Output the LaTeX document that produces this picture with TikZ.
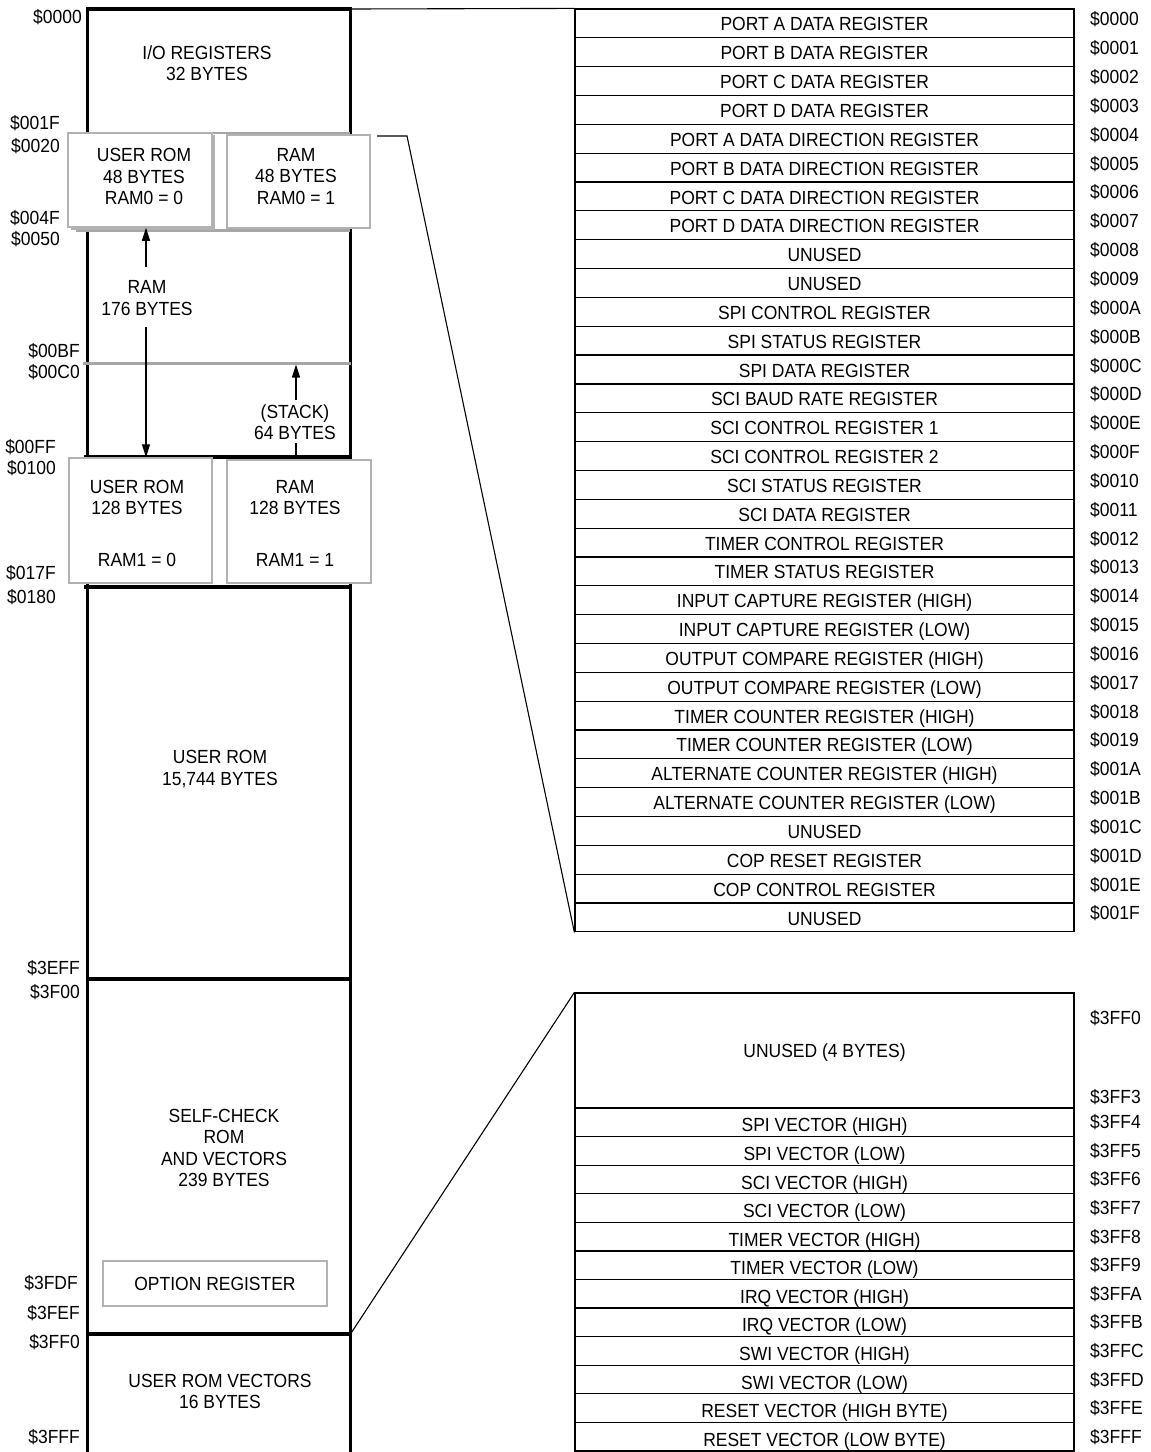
\documentclass[tikz,border=0pt]{standalone}
\usepackage{fontspec}
\setmainfont{Liberation Sans}[FakeStretch=0.92]
\usetikzlibrary{arrows.meta}
\definecolor{boxgray}{gray}{0.70}
\definecolor{divgray}{gray}{0.65}
\tikzset{
  txt/.style={font=\fontsize{19pt}{21.3pt}\selectfont, inner sep=0pt},
  blk/.style={txt, align=center},
  addr/.style={txt, anchor=base east},
  raddr/.style={txt, anchor=base west},
  colline/.style={line width=3.8pt, black},
  graydiv/.style={line width=3pt, divgray},
  ovbox/.style={draw=boxgray, line width=1.5pt, fill=white, inner sep=0pt},
  arr/.style={line width=1.2pt, -{Triangle[width=8pt,length=13pt]}},
  rowbox/.style={txt, draw, line width=1.2pt, minimum width=499pt, minimum height=28.84pt, text height=15.1pt, text depth=0pt},
  vrowbox/.style={rowbox, minimum height=28.58pt, text height=19.1pt},
  conn/.style={line width=1.1pt},
}
\begin{document}
\begin{tikzpicture}[x=1pt,y=-1pt]
\useasboundingbox (0,0) rectangle (1151,1452);

% ---------- memory column ----------
\draw[colline, line join=miter] (87.5,1452) -- (87.5,9) -- (350.5,9) -- (350.5,1452);
\coordinate (coltr) at (350.5,9);
\draw[divgray, line width=2pt] (88,133) -- (350,133);
\draw[graydiv] (76,230) -- (350,230);
\draw[graydiv] (83,363) -- (351,363);
\coordinate (stacktop) at (296,364.5);
\draw[colline] (84,457) -- (352,457);
\draw[colline] (84,587) -- (352,587);
\draw[colline] (87.5,979) -- (350.5,979);
\draw[colline] (87.5,1334) -- (350.5,1334);
\coordinate (c3ff0) at (350.5,1334);

% ---------- overlay boxes ----------
\draw[boxgray, line width=1.5pt] (72,136) rectangle (214,229);
\node[ovbox, minimum width=144pt, minimum height=94pt] (urom48box) at (140,180) {};
\node[ovbox, minimum width=143pt, minimum height=93pt] (ram48box) at (298.5,181.5) {};
\node[ovbox, minimum width=143pt, minimum height=125pt] (urom128box) at (140.5,520.5) {};
\node[ovbox, minimum width=144pt, minimum height=123pt] (ram128box) at (299,521.5) {};
\node[ovbox, txt, draw=boxgray, minimum width=224pt, minimum height=45pt] (optbox) at (215,1283.5) {OPTION REGISTER};

% ---------- texts in column ----------
\node[blk] (io) at (207,63.5) {I/O REGISTERS\\32 BYTES};
\node[blk] (urom48) at (144,176.5) {USER ROM\\48 BYTES\\RAM0 = 0};
\node[blk] (ram48) at (296,176.5) {RAM\\48 BYTES\\RAM0 = 1};
\node[blk] (ram176) at (147,298) {RAM\\176 BYTES};
\node[blk] (stack) at (295,422.5) {(STACK)\\64 BYTES};
\node[blk] (urom128) at (137,523.5) {USER ROM\\128 BYTES\\[30.5pt]RAM1 = 0};
\node[blk] (ram128) at (295,523.5) {RAM\\128 BYTES\\[30.5pt]RAM1 = 1};
\node[blk] (urom15744) at (220,769) {USER ROM\\15,744 BYTES};
\node[blk] (selfcheck) at (224,1148) {SELF-CHECK\\ROM\\AND VECTORS\\239 BYTES};
\node[blk] (urv) at (220,1391.5) {USER ROM VECTORS\\16 BYTES};

% ---------- arrows ----------
\coordinate (a1s) at (146,267);
\draw[arr] (a1s) -- (a1s |- urom48box.south);
\coordinate (a2s) at (146,327);
\draw[arr] (a2s) -- (a2s |- urom128box.north);
\coordinate (s1) at (296,400);
\draw[arr] (s1) -- (stacktop);
\coordinate (s2) at (296,443);
\draw[line width=1.2pt] (s2) -- (296,457);

% ---------- left addresses ----------
\node[addr] (l0000) at (82,23.5) {\$0000};
\node[addr] (l001F) at (60,129.5) {\$001F};
\node[addr] (l0020) at (60,152.5) {\$0020};
\node[addr] (l004F) at (60,224.5) {\$004F};
\node[addr] (l0050) at (60,245.5) {\$0050};
\node[addr] (l00BF) at (80,357.5) {\$00BF};
\node[addr] (l00C0) at (80,378.5) {\$00C0};
\node[addr] (l00FF) at (56,453.5) {\$00FF};
\node[addr] (l0100) at (56,474.5) {\$0100};
\node[addr] (l017F) at (56,579.5) {\$017F};
\node[addr] (l0180) at (56,603.5) {\$0180};
\node[addr] (l3EFF) at (80,974.5) {\$3EFF};
\node[addr] (l3F00) at (80,998.5) {\$3F00};
\node[addr] (l3FDF) at (78,1289.5) {\$3FDF};
\node[addr] (l3FEF) at (80,1319.5) {\$3FEF};
\node[addr] (l3FF0) at (80,1348.5) {\$3FF0};
\node[addr] (l3FFF) at (80,1443.5) {\$3FFF};

% ---------- I/O register table ----------
\foreach \t [count=\i from 0] in {
  {PORT A DATA REGISTER},{PORT B DATA REGISTER},{PORT C DATA REGISTER},{PORT D DATA REGISTER},
  {PORT A DATA DIRECTION REGISTER},{PORT B DATA DIRECTION REGISTER},{PORT C DATA DIRECTION REGISTER},{PORT D DATA DIRECTION REGISTER},
  {UNUSED},{UNUSED},{SPI CONTROL REGISTER},{SPI STATUS REGISTER},{SPI DATA REGISTER},{SCI BAUD RATE REGISTER},
  {SCI CONTROL REGISTER 1},{SCI CONTROL REGISTER 2},{SCI STATUS REGISTER},{SCI DATA REGISTER},
  {TIMER CONTROL REGISTER},{TIMER STATUS REGISTER},{INPUT CAPTURE REGISTER (HIGH)},{INPUT CAPTURE REGISTER (LOW)},
  {OUTPUT COMPARE REGISTER (HIGH)},{OUTPUT COMPARE REGISTER (LOW)},{TIMER COUNTER REGISTER (HIGH)},{TIMER COUNTER REGISTER (LOW)},
  {ALTERNATE COUNTER REGISTER (HIGH)},{ALTERNATE COUNTER REGISTER (LOW)},{UNUSED},{COP RESET REGISTER},{COP CONTROL REGISTER},{UNUSED}}
{
  \node[rowbox] (t\i) at (824.5,{9+28.84*(\i+0.5)}) {\t};
}
\foreach \a [count=\i from 0] in {0000,0001,0002,0003,0004,0005,0006,0007,0008,0009,000A,000B,000C,000D,000E,000F,
  0010,0011,0012,0013,0014,0015,0016,0017,0018,0019,001A,001B,001C,001D,001E,001F}
{
  \node[raddr] (ta\i) at (1090,{9+28.84*(\i+0.5)+2.5}) {\$\a};
}

% ---------- vector table ----------
\node[rowbox, minimum height=115pt, text height=13.1pt] (v0) at (824.5,1050.5) {UNUSED (4 BYTES)};
\foreach \t [count=\i from 1] in {
  {SPI VECTOR (HIGH)},{SPI VECTOR (LOW)},{SCI VECTOR (HIGH)},{SCI VECTOR (LOW)},
  {TIMER VECTOR (HIGH)},{TIMER VECTOR (LOW)},{IRQ VECTOR (HIGH)},{IRQ VECTOR (LOW)},
  {SWI VECTOR (HIGH)},{SWI VECTOR (LOW)},{RESET VECTOR (HIGH BYTE)},{RESET VECTOR (LOW BYTE)}}
{
  \node[vrowbox] (v\i) at (824.5,{1108+28.58*(\i-0.5)}) {\t};
}
\node[raddr] (va0) at (1090,1024.5) {\$3FF0};
\node[raddr] (va3) at (1090,1103.5) {\$3FF3};
\foreach \a [count=\i from 1] in {3FF4,3FF5,3FF6,3FF7,3FF8,3FF9,3FFA,3FFB,3FFC,3FFD,3FFE,3FFF}
{
  \node[raddr] (vb\i) at (1090,{1108+28.58*(\i-0.5)+6.5}) {\$\a};
}

% ---------- connectors ----------
\draw[conn] (coltr) -- (t0.north west);
\coordinate (k1) at (377,136);
\draw[conn] (k1) -- (407,136) -- (t31.south west);
\draw[conn] (c3ff0) -- (v0.north west);
\end{tikzpicture}
\end{document}
